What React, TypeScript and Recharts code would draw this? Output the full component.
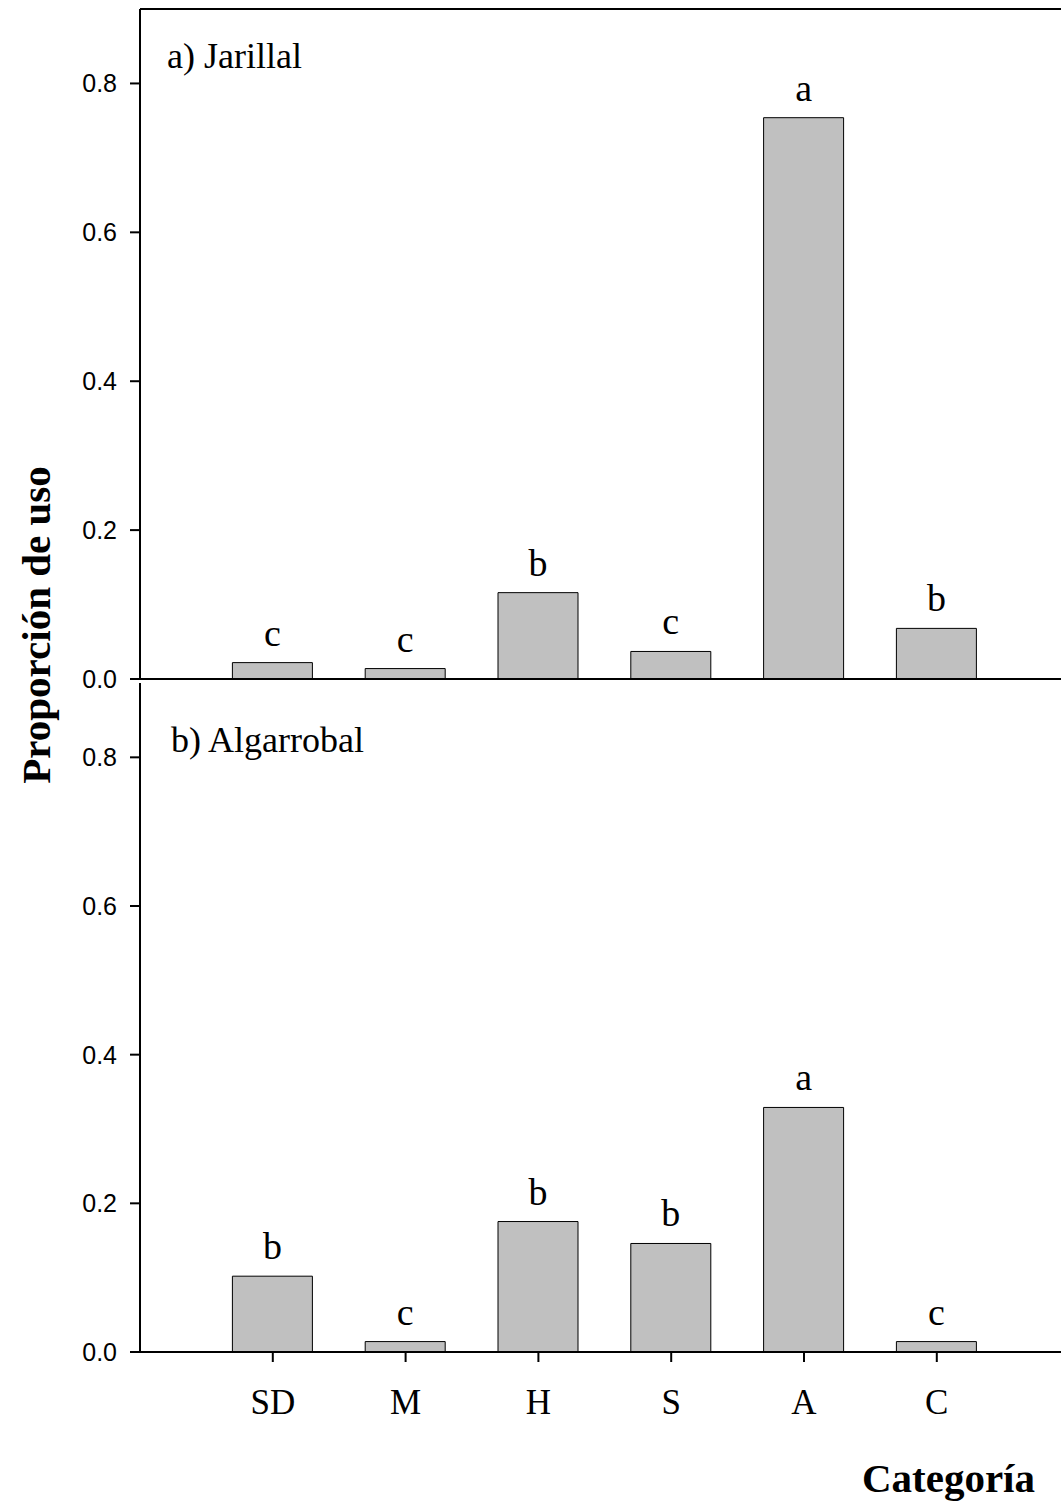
import { BarChart, Bar, XAxis, YAxis, LabelList, ReferenceLine } from "recharts";

const categories = ["SD", "M", "H", "S", "A", "C"];
const positions = [1, 2, 3, 4, 5, 6];
const jarillal = [0.022, 0.014, 0.116, 0.037, 0.754, 0.068];
const algarrobal = [0.102, 0.014, 0.1755, 0.146, 0.329, 0.014];
const jarillalLetters = ["c", "c", "b", "c", "a", "b"];
const algarrobalLetters = ["b", "c", "b", "b", "a", "c"];
const yTicks = [0, 0.2, 0.4, 0.6, 0.8];

const SERIF = "'Liberation Serif', 'Times New Roman', serif";
const SANS = "'Liberation Sans', Arial, sans-serif";

const topData = positions.map((p, i) => ({ pos: p, value: jarillal[i] }));
const bottomData = positions.map((p, i) => ({ pos: p, value: algarrobal[i] }));

const axisStyle = { stroke: "#000", strokeWidth: 2 };

function letterLabel(letters: string[]) {
    return (props: any) => {
        const { x, y, width, index } = props;
        return (
            <text
                x={Number(x) + Number(width) / 2}
                y={Number(y) - 17}
                textAnchor="middle"
                fontFamily={SERIF}
                fontSize={38}
                fill="#000"
            >
                {letters[index]}
            </text>
        );
    };
}

export default function App() {
    return (
        <div
            style={{
                position: "absolute",
                left: 0,
                top: 0,
                width: 1061,
                height: 1502,
                overflow: "hidden",
                background: "#fff",
            }}
        >
            {/* a) Jarillal */}
            <div style={{ position: "absolute", left: 0, top: 0 }}>
                <BarChart
                    width={1100}
                    height={700}
                    data={topData}
                    margin={{ top: 9, right: 30.4, bottom: 1, left: 80 }}
                >
                    <XAxis
                        dataKey="pos"
                        type="number"
                        domain={[0, 7]}
                        ticks={positions}
                        tick={false}
                        tickSize={5}
                        height={20}
                        axisLine={axisStyle}
                        tickLine={axisStyle}
                    />
                    <YAxis
                        type="number"
                        domain={[0, 0.9]}
                        ticks={yTicks}
                        width={60}
                        tickSize={10}
                        tickMargin={13}
                        tickFormatter={(v: number) => v.toFixed(1)}
                        tick={{ fill: "#000", fontSize: 25, fontFamily: SANS }}
                        axisLine={axisStyle}
                        tickLine={axisStyle}
                    />
                    <ReferenceLine y={0.9} stroke="#000" strokeWidth={2} />
                    <Bar
                        dataKey="value"
                        fill="#C0C0C0"
                        stroke="#000"
                        strokeWidth={1}
                        barSize={80}
                        isAnimationActive={false}
                    >
                        <LabelList dataKey="value" content={letterLabel(jarillalLetters)} />
                    </Bar>
                </BarChart>
            </div>

            {/* b) Algarrobal */}
            <div style={{ position: "absolute", left: 0, top: 673 }}>
                <BarChart
                    width={1100}
                    height={829}
                    data={bottomData}
                    margin={{ top: 10, right: 30.4, bottom: 0, left: 80 }}
                >
                    <XAxis
                        dataKey="pos"
                        type="number"
                        domain={[0, 7]}
                        ticks={positions}
                        tickFormatter={(v: number) => categories[v - 1]}
                        tickSize={10}
                        tickMargin={27}
                        height={150}
                        tick={{ fill: "#000", fontSize: 35, fontFamily: SERIF }}
                        axisLine={axisStyle}
                        tickLine={axisStyle}
                        label={{
                            content: (p: any) => {
                                const vb = p.viewBox || {};
                                return (
                                    <text
                                        x={vb.x + 895}
                                        y={vb.y + 140}
                                        textAnchor="end"
                                        fontFamily={SERIF}
                                        fontWeight="bold"
                                        fontSize={41}
                                        fill="#000"
                                    >
                                        Categoría
                                    </text>
                                );
                            },
                        }}
                    />
                    <YAxis
                        type="number"
                        domain={[0, 0.9]}
                        ticks={yTicks}
                        width={60}
                        tickSize={10}
                        tickMargin={13}
                        tickFormatter={(v: number) => v.toFixed(1)}
                        tick={{ fill: "#000", fontSize: 25, fontFamily: SANS }}
                        axisLine={axisStyle}
                        tickLine={axisStyle}
                    />
                    <Bar
                        dataKey="value"
                        fill="#C0C0C0"
                        stroke="#000"
                        strokeWidth={1}
                        barSize={80}
                        isAnimationActive={false}
                    >
                        <LabelList dataKey="value" content={letterLabel(algarrobalLetters)} />
                    </Bar>
                </BarChart>
            </div>

            {/* panel titles and shared y-axis title */}
            <svg
                width={1061}
                height={1502}
                style={{ position: "absolute", left: 0, top: 0, pointerEvents: "none" }}
            >
                <text x={167} y={68} fontFamily={SERIF} fontSize={36} fill="#000">
                    a) Jarillal
                </text>
                <text x={171} y={752} fontFamily={SERIF} fontSize={36} fill="#000">
                    b) Algarrobal
                </text>
                <text
                    x={0}
                    y={0}
                    transform="translate(50 625) rotate(-90)"
                    textAnchor="middle"
                    fontFamily={SERIF}
                    fontWeight="bold"
                    fontSize={41}
                    fill="#000"
                >
                    Proporción de uso
                </text>
            </svg>
        </div>
    );
}
